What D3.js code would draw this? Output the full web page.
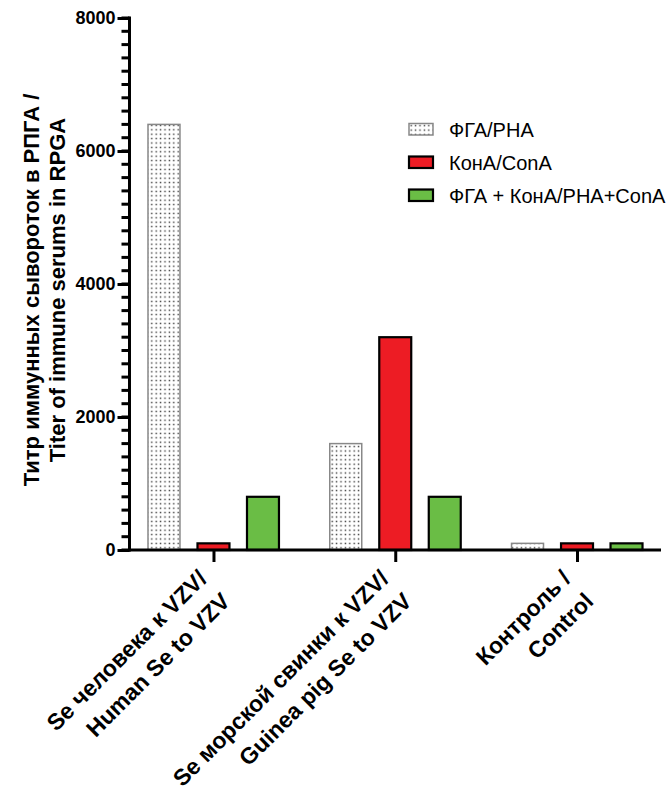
<!DOCTYPE html>
<html>
<head>
<meta charset="utf-8">
<script src="https://d3js.org/d3.v7.min.js"></script>
<style>
  body { margin: 0; background: #fff; }
  svg { font-family: "Liberation Sans", Arial, sans-serif; }
  .axis text { font-weight: bold; fill: #000; }
</style>
</head>
<body>
<script>
// chart values
const categories = [
  ["Se человека к VZV/", "Human Se to VZV"],
  ["Se морской свинки к VZV/", "Guinea pig Se to VZV"],
  ["Контроль /", "Control"]
];
const seriesNames = ["ФГА/PHA", "КонА/ConA", "ФГА + КонА/PHA+ConA"];
const pha = [6400, 1600, 100];
const cona = [100, 3200, 100];
const phaCona = [800, 800, 100];
const yTicks = [0, 2000, 4000, 6000, 8000];
const yTitle = ["Титр иммунных сывороток в РПГА /", "Titer of immune serums in RPGA"];

const seriesValues = [pha, cona, phaCona];

const width = 669, height = 798;
const x0 = 129.5, x1 = 661, yBase = 550, yTop = 18;

const svg = d3.select("body").append("svg")
    .attr("width", width)
    .attr("height", height);

// dotted fill for the PHA bars
const defs = svg.append("defs");
const pat = defs.append("pattern")
    .attr("id", "dots")
    .attr("patternUnits", "userSpaceOnUse")
    .attr("width", 4.4)
    .attr("height", 4.4);
pat.append("rect").attr("width", 4.4).attr("height", 4.4).attr("fill", "#fff");
pat.append("rect").attr("x", 1.5).attr("y", 1.5).attr("width", 1.4).attr("height", 1.4).attr("fill", "#333");

const fills = ["url(#dots)", "#ED1C24", "#6ABD45"];
const strokes = ["#888", "#000", "#000"];
const strokeW = [1.5, 2.2, 2.2];

const xScale = d3.scalePoint()
    .domain(d3.range(categories.length))
    .range([x0, x1])
    .padding(0.462);

const inner = d3.scaleBand()
    .domain(d3.range(seriesNames.length))
    .range([-74.25, 74.25])
    .paddingInner(0.354)
    .paddingOuter(0.177);

const yScale = d3.scaleLinear()
    .domain([0, 8000])
    .range([yBase, yTop]);

// bars
seriesValues.forEach((vals, s) => {
  svg.append("g").selectAll("rect")
    .data(vals)
    .enter().append("rect")
      .attr("x", (d, i) => xScale(i) + inner(s))
      .attr("width", inner.bandwidth())
      .attr("y", d => yScale(d))
      .attr("height", d => yBase - yScale(d))
      .attr("fill", fills[s])
      .attr("stroke", strokes[s])
      .attr("stroke-width", strokeW[s]);
});

// y axis minor ticks every 200
svg.append("g").selectAll("rect")
  .data(d3.range(0, 8001, 200))
  .enter().append("rect")
    .attr("x", x0 - 8)
    .attr("y", d => yScale(d) - 1.5)
    .attr("width", 8)
    .attr("height", 3)
    .attr("fill", "#000");

const yAxisG = svg.append("g")
    .attr("class", "axis y")
    .attr("transform", `translate(${x0},0)`)
    .call(d3.axisLeft(yScale).tickValues(yTicks).tickSize(12).tickSizeOuter(0)
      .tickPadding(2).tickFormat(d3.format("d")));
yAxisG.selectAll("text").style("font-size", "18px");
yAxisG.selectAll("line").attr("stroke-width", 3);
yAxisG.select(".domain").remove();
svg.append("rect")
    .attr("x", x0 - 1.5)
    .attr("y", yTop - 1.5)
    .attr("width", 3)
    .attr("height", yBase - yTop + 3)
    .attr("fill", "#000");

// x axis
const xAxis = svg.append("g")
    .attr("class", "axis x")
    .attr("transform", `translate(0,${yBase})`)
    .call(d3.axisBottom(xScale).tickSize(12).tickSizeOuter(0).tickFormat(""));
xAxis.select(".domain").remove();
xAxis.selectAll("line").attr("stroke-width", 3);
svg.append("rect")
    .attr("x", x0 - 1.5)
    .attr("y", yBase - 1.5)
    .attr("width", x1 - x0 + 1.5)
    .attr("height", 3)
    .attr("fill", "#000");

// rotated category labels
const lab = svg.append("g").selectAll("text")
  .data(categories)
  .enter().append("text")
    .attr("transform", (d, i) => `translate(${xScale(i) - 5},${yBase + 30}) rotate(-45)`)
    .attr("text-anchor", "end")
    .style("font-size", "23px")
    .style("font-weight", "bold");
lab.selectAll("tspan")
  .data(d => d)
  .enter().append("tspan")
    .attr("x", 0)
    .attr("dy", (d, i) => i === 0 ? 0 : "1.4em")
    .text(d => d);

// y title
const yt = svg.append("text")
    .attr("transform", `translate(39,290) rotate(-90)`)
    .attr("text-anchor", "middle")
    .style("font-size", "22px")
    .style("font-weight", "bold");
yt.selectAll("tspan")
  .data(yTitle)
  .enter().append("tspan")
    .attr("x", 0)
    .attr("dy", (d, i) => i === 0 ? 0 : "1.18em")
    .text(d => d);

// legend
const leg = svg.append("g").selectAll("g")
  .data(seriesNames)
  .enter().append("g")
    .attr("transform", (d, i) => `translate(409,${123.5 + i * 33})`);
leg.append("rect")
    .attr("width", 24)
    .attr("height", 11.5)
    .attr("fill", (d, i) => fills[i])
    .attr("stroke", (d, i) => strokes[i])
    .attr("stroke-width", (d, i) => strokeW[i]);
leg.append("text")
    .attr("x", 40)
    .attr("y", 6)
    .attr("dy", "0.35em")
    .style("font-size", "20px")
    .text(d => d);
</script>
</body>
</html>
